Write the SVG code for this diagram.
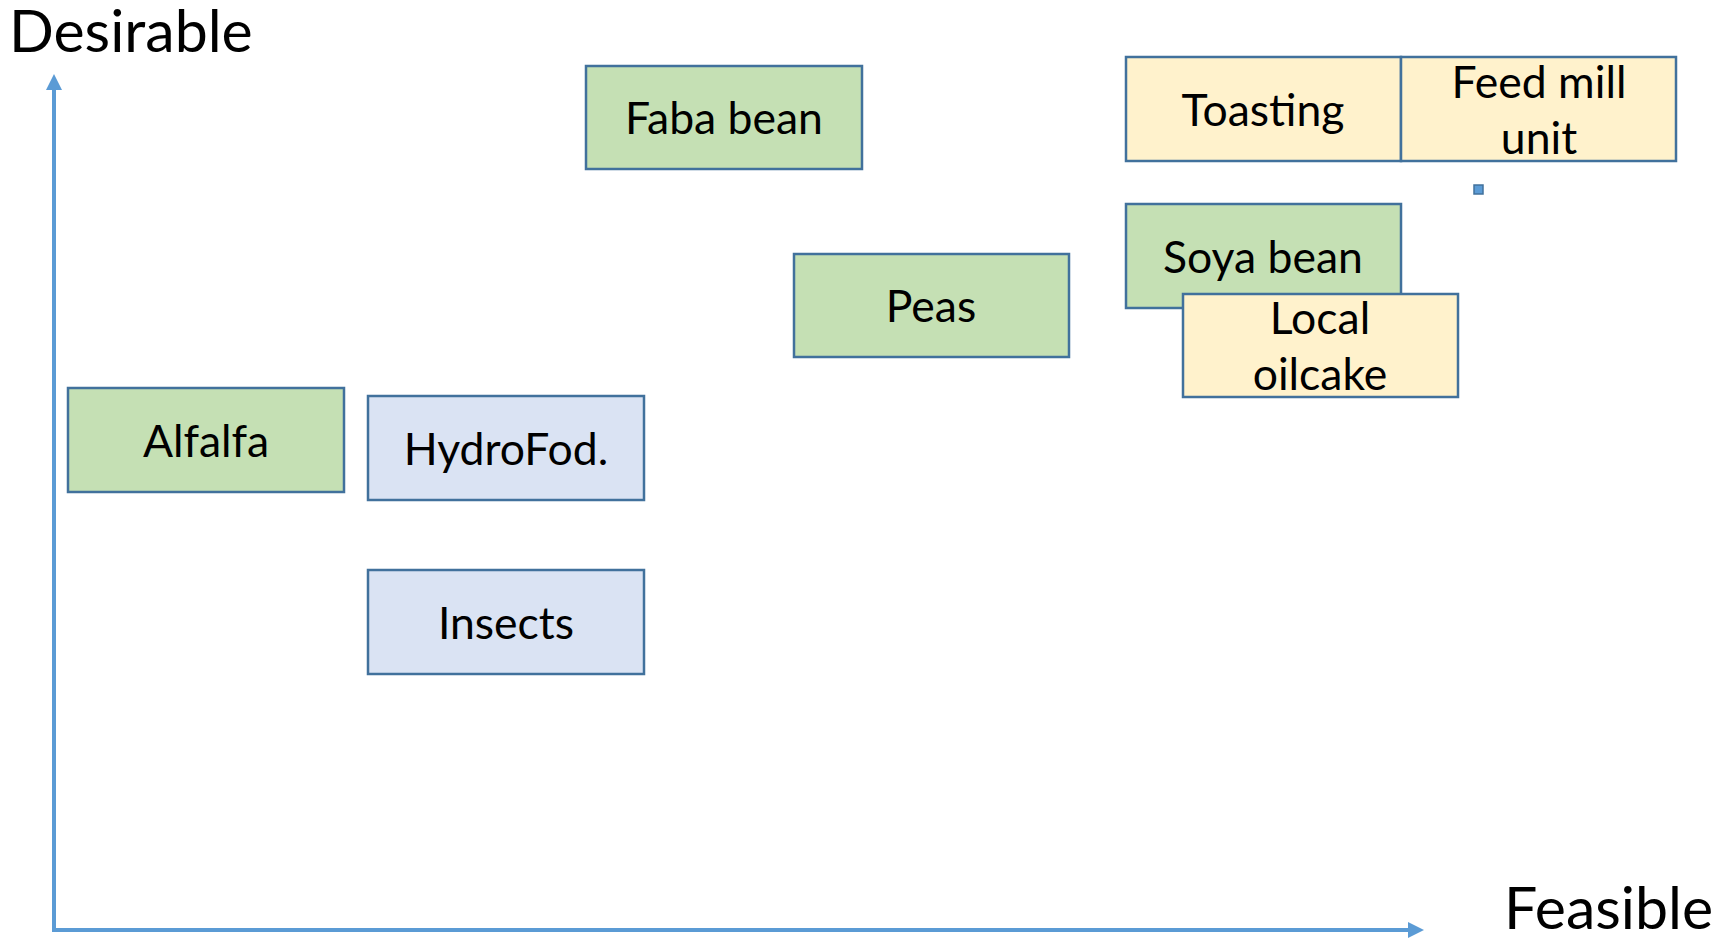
<svg xmlns="http://www.w3.org/2000/svg" width="1719" height="938" viewBox="0 0 1719 938">
<defs>
<style>
.box{stroke:#41719C;stroke-width:2.5}
.g{fill:#C5E0B4}.b{fill:#DAE3F3}.y{fill:#FFF2CC}
.t{font-family:Lato,"Open Sans",sans-serif;font-size:44.5px;fill:#000;text-anchor:middle}
.ax{font-family:Lato,"Open Sans",sans-serif;font-size:59px;fill:#000}
.axis{stroke:#5B9BD5;stroke-width:4;fill:none}
</style>
<marker id="ah" viewBox="0 0 10 10" refX="5" refY="5" markerWidth="4" markerHeight="4" orient="auto" markerUnits="strokeWidth">
<path d="M0,0 L10,5 L0,10 z" fill="#5B9BD5"/>
</marker>
</defs>
<rect width="1719" height="938" fill="#fff"/>
<g id="connectors">
<path class="axis" d="M54,930 L54,82" marker-end="url(#ah)"/>
<path class="axis" d="M52,930 L1416,930" marker-end="url(#ah)"/>
</g>
<g id="label-desirable"><text class="ax" x="9" y="52">Desirable</text></g>
<g id="label-feasible"><text class="ax" x="1504" y="929">Feasible</text></g>
<g id="faba"><rect class="box g" x="586" y="66" width="276" height="103"/><text class="t" x="724" y="134">Faba bean</text></g>
<g id="toasting"><rect class="box y" x="1126" y="57" width="275" height="104"/><text class="t" x="1263" y="126">Toasting</text></g>
<g id="feedmill"><rect class="box y" x="1401" y="57" width="275" height="104"/><text class="t" x="1539" y="98">Feed mill</text><text class="t" x="1539" y="154">unit</text></g>
<g id="dot"><rect x="1474" y="185" width="9" height="9" fill="#5B9BD5" stroke="#41719C" stroke-width="1.5"/></g>
<g id="soya"><rect class="box g" x="1126" y="204" width="275" height="104"/><text class="t" x="1263" y="273">Soya bean</text></g>
<g id="oilcake"><rect class="box y" x="1183" y="294" width="275" height="103"/><text class="t" x="1320" y="334">Local</text><text class="t" x="1320" y="390">oilcake</text></g>
<g id="peas"><rect class="box g" x="794" y="254" width="275" height="103"/><text class="t" x="931" y="322">Peas</text></g>
<g id="alfalfa"><rect class="box g" x="68" y="388" width="276" height="104"/><text class="t" x="206" y="457">Alfalfa</text></g>
<g id="hydrofod"><rect class="box b" x="368" y="396" width="276" height="104"/><text class="t" x="506" y="465">HydroFod.</text></g>
<g id="insects"><rect class="box b" x="368" y="570" width="276" height="104"/><text class="t" x="506" y="639">Insects</text></g>
</svg>
